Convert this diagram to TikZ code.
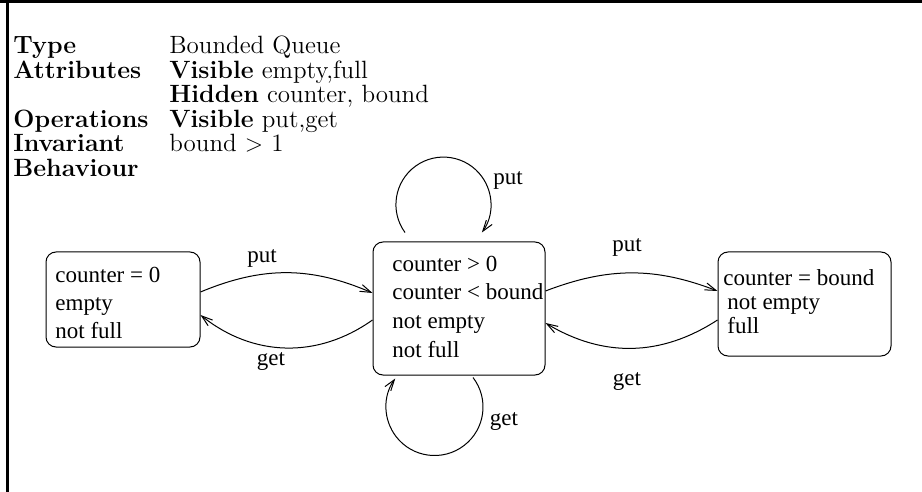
\documentclass[tikz,border=0pt]{standalone}
\usepackage{fontspec}
\newfontfamily\figfont{Liberation Serif}
\usetikzlibrary{calc,arrows.meta}

\begin{document}
\begin{tikzpicture}[x=0.5pt,y=0.5pt]
\tikzstyle{every node} = [inner sep=0]
\tikzstyle{head} = [anchor=base west, font=\fontsize{12.5}{15}\selectfont]
\tikzstyle{state} = [draw, rounded corners=5pt, line width=0.5pt]
\tikzstyle{statetext} = [anchor=north west, align=left, font=\figfont\fontsize{11.5}{14}\selectfont]
\tikzstyle{lbl} = [font=\figfont\fontsize{11.5}{14}\selectfont]
\tikzstyle{trans} = [draw, line width=0.5pt, -{Straight Barb[length=5.5pt,width=3.6pt]}]
\useasboundingbox (0,0) rectangle (922,-492);
% frame
\draw[line width=1.5pt] (0,-1.5) -- (922,-1.5);
\draw[line width=1.5pt] (7.5,0) -- (7.5,-492);
% header
\node[head] (typekey) at (13,-54) {\bfseries Type};
\node[head] (typeval) at (169,-54) {Bounded Queue};
\node[head] (attrkey) at (13,-78.5) {\bfseries Attributes};
\node[head] (attrvis) at (169,-78.5) {\textbf{Visible} empty,full};
\node[head] (attrhid) at (169,-103) {\textbf{Hidden} counter, bound};
\node[head] (opskey) at (13,-127.5) {\bfseries Operations};
\node[head] (opsval) at (169,-127.5) {\textbf{Visible} put,get};
\node[head] (invkey) at (13,-152) {\bfseries Invariant};
\node[head] (invval) at (169,-152) {bound $>$ 1};
\node[head] (behkey) at (13,-176.5) {\bfseries Behaviour};
% states
\node[state, minimum width=77pt, minimum height=47.5pt] (zero) at (123,-299.5) {};
\node[state, minimum width=86pt, minimum height=66.5pt] (mid) at (459,-308.5) {};
\node[state, minimum width=86.5pt, minimum height=52pt] (full) at (804.5,-304) {};
\node[statetext] (zerotxt) at (55,-266.5) {counter = 0\\empty\\not full};
\node[statetext, font=\figfont\fontsize{11.5}{14.4}\selectfont] (midtxt) at (392,-255.5)
  {counter > 0\\counter < bound\\not empty\\not full};
\node[statetext, font=\figfont\fontsize{11.5}{12}\selectfont] (fulltxt) at (723,-269)
  {counter = bound\\\hspace{2pt}not empty\\\hspace{2pt}full};
% transitions
\draw[trans] ($(zero.east)+(0,7.5)$) to[bend left=23] ($(mid.west)+(0,15.5)$);
\draw[trans] ($(mid.west)+(0,-11.5)$) to[bend left=37] ($(zero.east)+(0,-15.5)$);
\draw[trans] ($(mid.east)+(0,17.5)$) to[bend left=21] ($(full.west)+(0,13)$);
\draw[trans] ($(full.west)+(0,-16)$) to[bend left=32] ($(mid.east)+(0,-14.5)$);
\draw[trans] ($(mid.north)+(-54,9)$) arc[start angle=216, end angle=-36, radius=23.75pt];
\draw[trans] ($(mid.south)+(14,-2)$) arc[start angle=37.5, end angle=-216, radius=24.25pt];
\node[lbl] (put1) at (262,-258) {put};
\node[lbl] (get1) at (271,-362) {get};
\node[lbl] (put2) at (627,-247) {put};
\node[lbl] (get2) at (627,-382) {get};
\node[lbl] (put3) at (508,-180) {put};
\node[lbl] (get3) at (504,-422) {get};
\end{tikzpicture}
\end{document}
